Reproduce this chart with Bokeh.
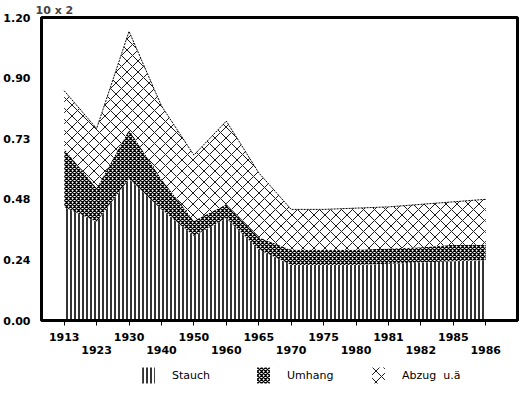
from bokeh.plotting import figure
from bokeh.models import Range1d, FixedTicker, Legend, LegendItem, Title, LinearAxis
from bokeh.layouts import column
from bokeh.embed import file_html
from bokeh.resources import INLINE

years = ["1913", "1923", "1930", "1940", "1950", "1960", "1965",
         "1970", "1975", "1980", "1981", "1982", "1985", "1986"]
stauch = [0.45, 0.39, 0.56, 0.44, 0.335, 0.405, 0.28, 0.22, 0.22, 0.22, 0.225, 0.23, 0.235, 0.24]
umhang = [0.23, 0.135, 0.195, 0.12, 0.06, 0.055, 0.05, 0.06, 0.06, 0.06, 0.06, 0.06, 0.065, 0.06]
abzug = [0.23, 0.235, 0.39, 0.29, 0.26, 0.33, 0.255, 0.16, 0.16, 0.165, 0.165, 0.17, 0.17, 0.18]
series_names = ["Stauch", "Umhang", "Abzug  u.ä"]
y_ticks = [0.0, 0.24, 0.48, 0.72, 0.96, 1.2]
y_tick_labels = ["0.00", "0.24", "0.48", "0.73", "0.90", "1.20"]
unit_label = "10 x 2"

x = list(range(len(years)))
c1 = stauch
c2 = [a + b for a, b in zip(c1, umhang)]
c3 = [a + b for a, b in zip(c2, abzug)]
zero = [0.0] * len(x)
bands = [(zero, c1), (c1, c2), (c2, c3)]

FONT = "DejaVu Sans"
STYLES = [dict(hatch_pattern="vertical_line", hatch_scale=4, hatch_weight=1.6),
          dict(hatch_pattern="diagonal_cross", hatch_scale=4, hatch_weight=1.3),
          dict(hatch_pattern="diagonal_cross", hatch_scale=11, hatch_weight=0.9)]

p = figure(width=519, height=360, output_backend="svg", toolbar_location=None,
           x_range=Range1d(-0.7, len(x) - 0.02), y_range=Range1d(0, 1.2),
           min_border_left=30, min_border_right=2, min_border_top=16, min_border_bottom=40)
p.background_fill_color = "white"
p.border_fill_color = "white"
p.outline_line_color = "black"
p.outline_line_width = 3
p.xgrid.visible = False
p.ygrid.visible = False

for (lo, hi), st in zip(bands, STYLES):
    p.varea(x=x, y1=lo, y2=hi, fill_color="white", hatch_color="black", **st)
p.line(x=x, y=c3, line_color="black", line_width=1, line_dash="2 1")

# y axis
p.yaxis.ticker = FixedTicker(ticks=y_ticks)
p.yaxis.major_label_overrides = {t: l for t, l in zip(y_ticks, y_tick_labels)}
p.yaxis.axis_line_width = 3
p.yaxis.major_tick_line_color = None
p.yaxis.minor_tick_line_color = None
p.yaxis.major_label_text_font = FONT
p.yaxis.major_label_text_font_style = "bold"
p.yaxis.major_label_text_font_size = "11px"
p.yaxis.major_label_text_color = "black"
p.yaxis.major_label_standoff = 5

# x axis: upper row of labels (even positions), ticks at all positions
p.xaxis.ticker = FixedTicker(ticks=x)
p.xaxis.major_label_overrides = {i: (yr if i % 2 == 0 else "") for i, yr in zip(x, years)}
p.xaxis.axis_line_width = 3
p.xaxis.major_tick_in = 0
p.xaxis.major_tick_out = 5
p.xaxis.minor_tick_line_color = None
p.xaxis.major_label_text_font = FONT
p.xaxis.major_label_text_font_style = "bold"
p.xaxis.major_label_text_font_size = "11px"
p.xaxis.major_label_text_color = "black"
p.xaxis.major_label_standoff = 7

# lower row of labels (odd positions)
odd = [i for i in x if i % 2 == 1]
ax2 = LinearAxis(ticker=FixedTicker(ticks=odd),
                 major_label_overrides={i: years[i] for i in odd},
                 axis_line_color=None, major_tick_line_color=None, minor_tick_line_color=None,
                 major_tick_out=0, major_tick_in=0,
                 major_label_standoff=2, major_label_text_font=FONT,
                 major_label_text_font_style="bold", major_label_text_font_size="11px",
                 major_label_text_color="black")
p.add_layout(ax2, "below")

t = Title(text=unit_label, align="left", offset=-6, text_font=FONT, text_font_style="bold",
          text_font_size="11px", standoff=2)
p.add_layout(t, "above")

# legend strip below the chart (its renderers lie outside the strip's visible range)
p2 = figure(width=519, height=36, output_backend="svg", toolbar_location=None,
            x_range=Range1d(100, 101), y_range=Range1d(100, 101),
            x_axis_type=None, y_axis_type=None,
            min_border_left=0, min_border_right=0, min_border_top=0, min_border_bottom=0)
p2.outline_line_color = None
p2.xgrid.visible = False
p2.ygrid.visible = False
items = []
for name, (lo, hi), st in zip(series_names, bands, STYLES):
    r = p2.varea(x=x, y1=lo, y2=hi, fill_color="white", hatch_color="black", **st)
    items.append(LegendItem(label=name, renderers=[r]))
legend = Legend(items=items, orientation="horizontal", location=(97, 9), spacing=28,
                label_standoff=16, glyph_width=16, glyph_height=20, label_width=55,
                border_line_alpha=0, background_fill_alpha=0, padding=2, margin=0,
                label_text_font=FONT, label_text_font_size="11px", label_text_color="black")
p2.add_layout(legend, "center")

open("out.html", "w").write(file_html(column(p, p2, spacing=0), INLINE))
